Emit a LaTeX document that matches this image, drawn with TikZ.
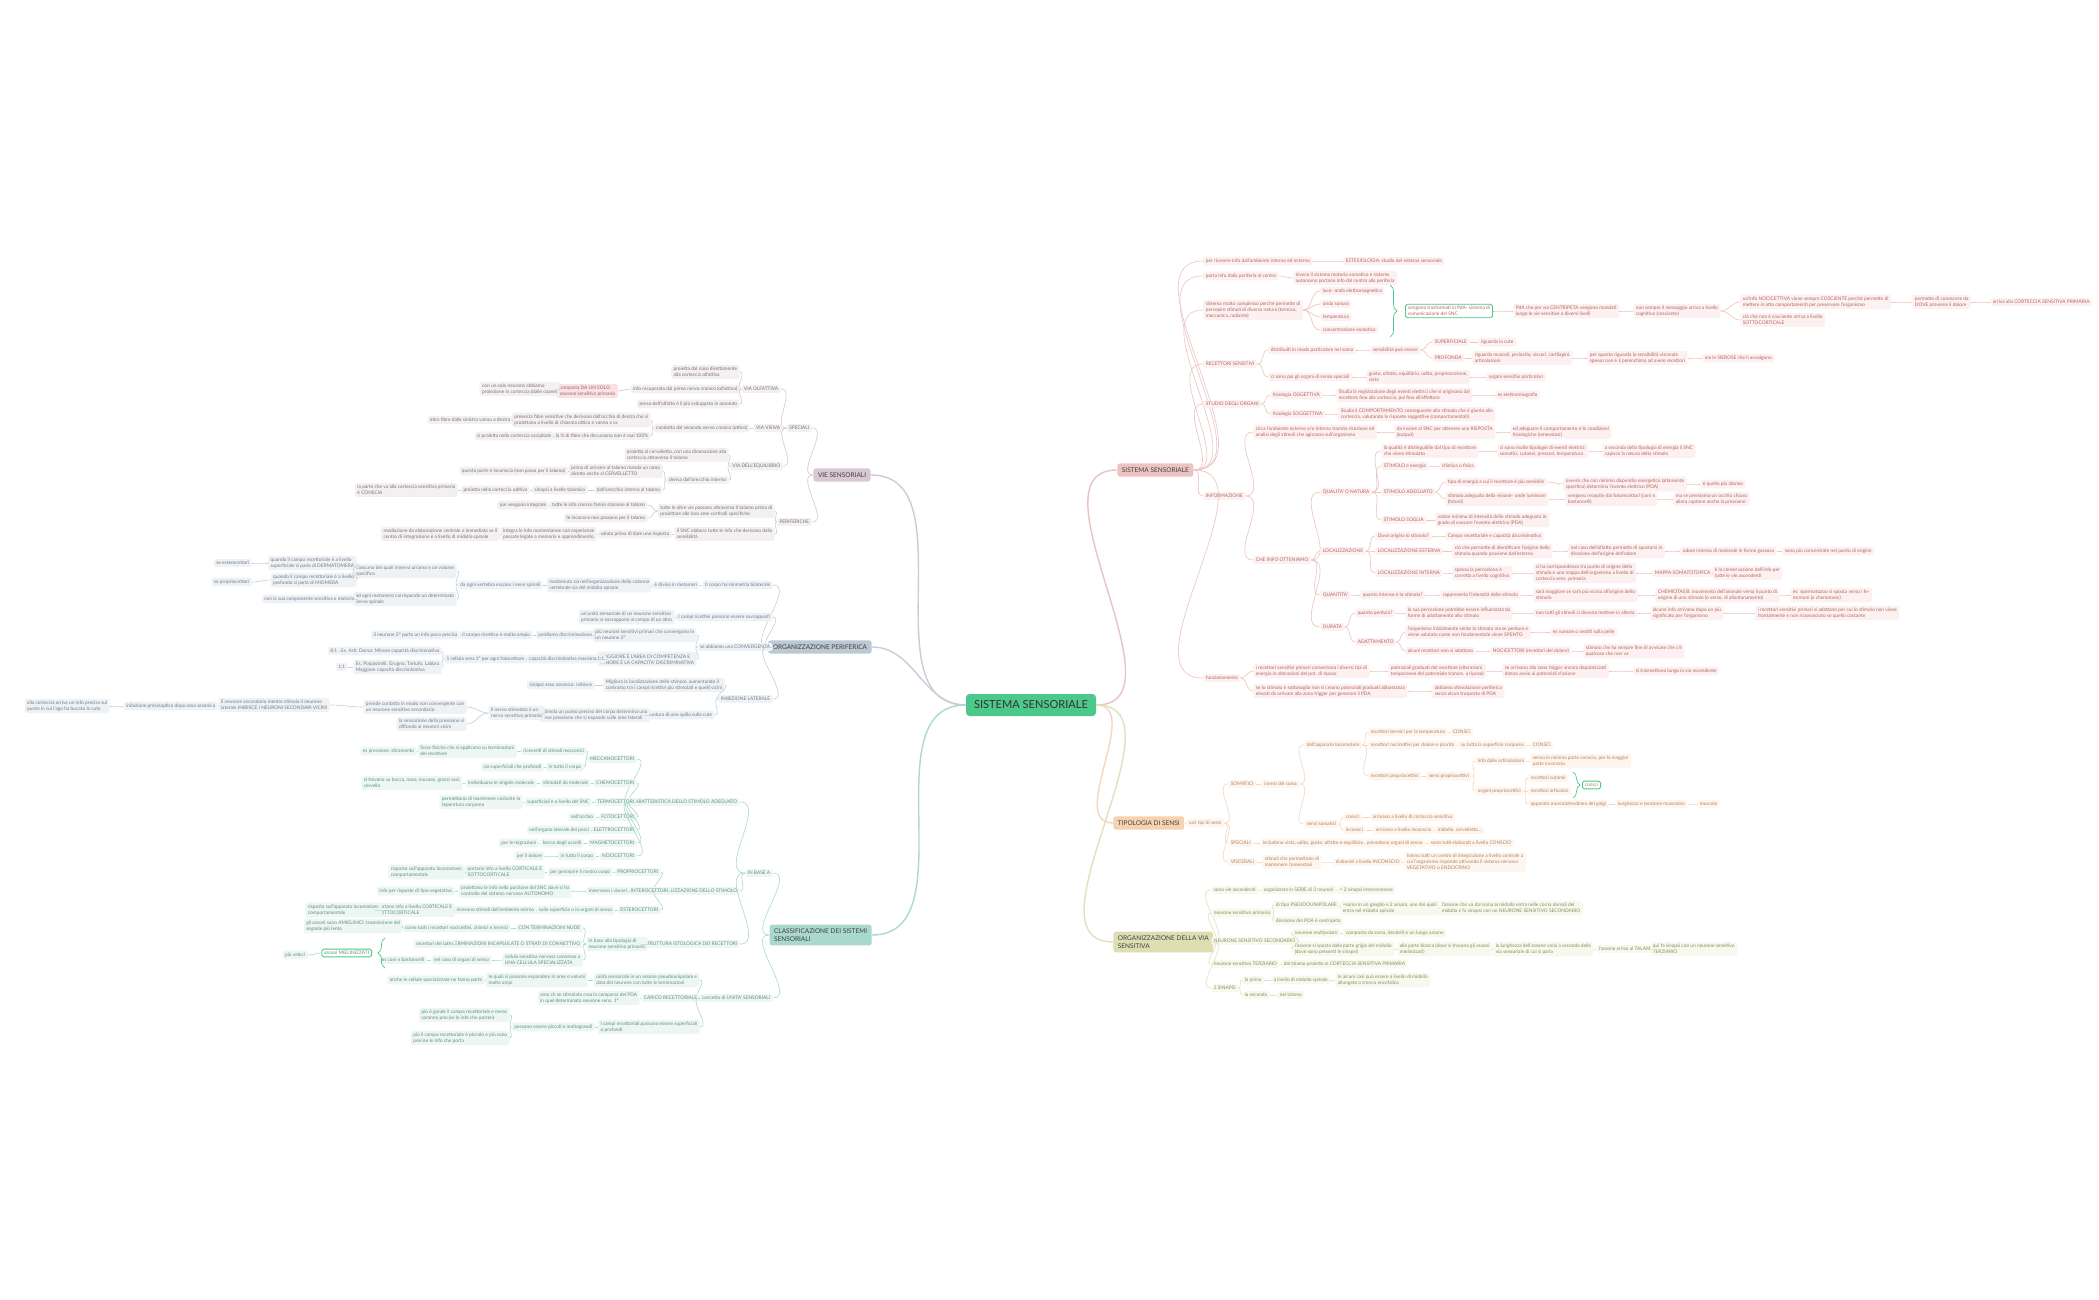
\documentclass[tikz,border=0pt]{standalone}
\usepackage{fontspec}
\setmainfont{Lato}
\usetikzlibrary{decorations.pathreplacing}
\definecolor{pkt}{HTML}{B3645F}\definecolor{pkf}{HTML}{FCF1F0}\definecolor{pkL}{HTML}{EBC3C1}\definecolor{pkB}{HTML}{EDC3C2}
\definecolor{vit}{HTML}{7E6E7A}\definecolor{vif}{HTML}{F3F0F2}\definecolor{viL}{HTML}{D5C8D2}\definecolor{viB}{HTML}{D8C8D3}
\definecolor{opt}{HTML}{6F7A88}\definecolor{opf}{HTML}{EFF2F5}\definecolor{opL}{HTML}{C5CFDA}\definecolor{opB}{HTML}{BDC8D5}
\definecolor{clt}{HTML}{5F8E83}\definecolor{clf}{HTML}{EDF6F3}\definecolor{clL}{HTML}{ACDACE}\definecolor{clB}{HTML}{A9D8CC}
\definecolor{tpt}{HTML}{B0835E}\definecolor{tpf}{HTML}{FEF5EE}\definecolor{tpL}{HTML}{F6D7BD}\definecolor{tpB}{HTML}{F6D2B1}
\definecolor{ovt}{HTML}{8A8C5A}\definecolor{ovf}{HTML}{F7F8EE}\definecolor{ovL}{HTML}{DFE2BE}\definecolor{ovB}{HTML}{DDDFB3}
\definecolor{gr}{HTML}{4CC98A}
\tikzset{
 base/.style={font=\fontsize{2.75}{3.3}\selectfont,inner xsep=1.4pt,inner ysep=1.2pt,rounded corners=1pt,align=left},
 pk/.style={base,fill=pkf,text=pkt}, pkl/.style={draw=pkL,line width=0.35pt},
 vi/.style={base,fill=vif,text=vit}, vil/.style={draw=viL,line width=0.35pt},
 op/.style={base,fill=opf,text=opt}, opl/.style={draw=opL,line width=0.35pt},
 cl/.style={base,fill=clf,text=clt}, cll/.style={draw=clL,line width=0.35pt},
 tp/.style={base,fill=tpf,text=tpt}, tpl/.style={draw=tpL,line width=0.35pt},
 ov/.style={base,fill=ovf,text=ovt}, ovl/.style={draw=ovL,line width=0.35pt},
 mainb/.style={font=\fontsize{3.7}{4.4}\selectfont,inner xsep=2.6pt,inner ysep=2.4pt,rounded corners=1.5pt,text=black!75,align=left},
}
\newcommand{\rc}[6]{\node[#1,anchor=west] (#2) at (#4,#5) {#6}; \draw[#1l] (#3.east) to[out=0,in=180] (#2.west);}
\newcommand{\lc}[6]{\node[#1,anchor=east] (#2) at (#4,#5) {#6}; \draw[#1l] (#3.west) to[out=180,in=0] (#2.east);}
\begin{document}
\begin{tikzpicture}[x=0.02cm,y=-0.02cm]
\useasboundingbox[fill=white] (0,0) rectangle (2099,1300);
\node[fill=gr,text=black!80,font=\fontsize{6.3}{7}\selectfont,minimum width=130*0.02cm,minimum height=22*0.02cm,rounded corners=2pt] (C) at (1031,705) {SISTEMA SENSORIALE};
% main branches
\node[mainb,fill=pkB,anchor=west] (SS) at (1117,470) {SISTEMA SENSORIALE};
\node[mainb,fill=tpB,anchor=west] (TS) at (1113,823) {TIPOLOGIA DI SENSI};
\node[mainb,fill=ovB,anchor=west] (OV) at (1113,942) {ORGANIZZAZIONE DELLA VIA\\SENSITIVA};
\node[mainb,fill=viB,anchor=east] (VS) at (871,475) {VIE SENSORIALI};
\node[mainb,fill=opB,anchor=east] (OP) at (872,647) {ORGANIZZAZIONE PERIFERICA};
\node[mainb,fill=clB,anchor=east] (CL) at (872,935) {CLASSIFICAZIONE DEI SISTEMI\\SENSORIALI};
\draw[pkL,line width=0.8pt] (C.east) to[out=0,in=180] (SS.west);
\draw[tpL,line width=0.8pt] (C.east) to[out=0,in=180] (TS.west);
\draw[ovL,line width=0.8pt] (C.east) to[out=0,in=180] (OV.west);
\draw[viL,line width=0.8pt] (C.west) to[out=180,in=0] (VS.east);
\draw[opL,line width=0.8pt] (C.west) to[out=180,in=0] (OP.east);
\draw[clL,line width=0.8pt] (C.west) to[out=180,in=0] (CL.east);
% ===== SISTEMA SENSORIALE (right, pink)
\rc{pk}{a1}{SS}{1203}{261}{per ricevere info dall'ambiente interno ed esterno}
\rc{pk}{a1a}{a1}{1343}{261}{ESTESIOLOGIA: studio del sistema sensoriale}
\rc{pk}{a2}{SS}{1203}{276}{porta info dalla periferia al centro}
\rc{pk}{a2a}{a2}{1293}{278}{invece il sistema motorio somatico e sistema\\autonomo portano info dal centro alla periferia}
\rc{pk}{a3}{SS}{1203}{310}{sistema molto complesso perché permette di\\percepire stimoli di diversa natura (termica,\\meccanica, radiante)}
\rc{pk}{a3a}{a3}{1320}{291}{luce- onda elettromagnetica}
\rc{pk}{a3b}{a3}{1320}{304}{onda sonora}
\rc{pk}{a3c}{a3}{1320}{317}{temperatura}
\rc{pk}{a3d}{a3}{1320}{330}{concentrazione osmotica}
\draw[gr,line width=0.4pt,decorate,decoration={brace,amplitude=4pt}] (1390,285) -- (1390,337);
\node[pk,fill=white,draw=gr,line width=0.5pt,anchor=west] (a3e) at (1405,311) {vengono trasformati in PdA- sistema di\\comunicazione del SNC};
\rc{pk}{a3f}{a3e}{1513}{311}{PdA che per via CENTRIPETA vengono mandati\\lungo le vie sensitive a diversi livelli}
\rc{pk}{a3g}{a3f}{1633}{311}{non sempre il messaggio arriva a livello\\cognitivo (cosciente)}
\rc{pk}{a3h}{a3g}{1740}{302}{un'info NOCICETTIVA viene sempre COSCIENTE perché permette di\\mettere in atto comportamenti per preservare l'organismo}
\rc{pk}{a3i}{a3g}{1740}{320}{ciò che non è cosciente arriva a livello\\SOTTOCORTICALE}
\rc{pk}{a3j}{a3h}{1912}{302}{permette di conoscere da\\DOVE proviene il dolore}
\rc{pk}{a3k}{a3j}{1990}{302}{arriva alla CORTECCIA SENSITIVA PRIMARIA}
\rc{pk}{a4}{SS}{1203}{364}{RECETTORI SENSITIVI}
\rc{pk}{a4a}{a4}{1268}{350}{distribuiti in modo particolare nel soma}
\rc{pk}{a4b}{a4a}{1370}{350}{sensibilità può essere}
\rc{pk}{a4c}{a4b}{1432}{342}{SUPERFICIALE}
\rc{pk}{a4d}{a4c}{1478}{342}{riguarda la cute}
\rc{pk}{a4e}{a4b}{1432}{358}{PROFONDA}
\rc{pk}{a4f}{a4e}{1472}{358}{riguarda muscoli, periostio, visceri, cartilagini,\\articolazioni}
\rc{pk}{a4g}{a4f}{1587}{358}{per quanto riguarda la sensibilità viscerale\\spesso non è il parenchima ad avere recettori}
\rc{pk}{a4h}{a4g}{1702}{358}{ma le SIEROSE che li avvolgono}
\rc{pk}{a4i}{a4}{1268}{377}{ci sono poi gli organi di senso speciali}
\rc{pk}{a4j}{a4i}{1366}{377}{gusto, olfatto, equilibrio, udito, propriocezione,\\vista}
\rc{pk}{a4k}{a4j}{1486}{377}{organi sensitivi particolari}
\rc{pk}{a5}{SS}{1203}{404}{STUDIO DEGLI ORGANI}
\rc{pk}{a5a}{a5}{1270}{395}{fisiologia OGGETTIVA}
\rc{pk}{a5b}{a5a}{1336}{395}{Studia la registrazione degli eventi elettrici che si originano dal\\recettore fino alla corteccia, poi fino all'effettore}
\rc{pk}{a5c}{a5b}{1495}{395}{es elettromiografia}
\rc{pk}{a5d}{a5}{1270}{414}{fisiologia SOGGETTIVA}
\rc{pk}{a5e}{a5d}{1338}{414}{Studia il COMPORTAMENTO conseguente allo stimolo che è giunto alla\\corteccia, valutando le risposte soggettive (comportamentali)}
\rc{pk}{a6}{SS}{1203}{496}{INFORMAZIONE}
\rc{pk}{b1}{a6}{1253}{432}{circa l'ambiente esterno e/o interno tramite ricezione ed\\analisi degli stimoli che agiscono sull'organismo}
\rc{pk}{b2}{b1}{1394}{432}{da inviare al SNC per ottenere una RISPOSTA\\(output)}
\rc{pk}{b3}{b2}{1510}{432}{ed adeguare il comportamento e le condizioni\\fisiologiche (omeostasi)}
\rc{pk}{c0}{a6}{1253}{560}{CHE INFO OTTENIAMO}
\rc{pk}{q0}{c0}{1320}{492}{QUALITA' O NATURA}
\rc{pk}{q1}{q0}{1381}{451}{la qualità è distinguibile dal tipo di recettore\\che viene stimolato}
\rc{pk}{q1a}{q1}{1497}{451}{ci sono molte tipologie di eventi elettrici:\\somatici, cutanei, pressori, temperatura}
\rc{pk}{q1b}{q1a}{1602}{451}{a seconda della tipologia di energia il SNC\\capisce la natura dello stimolo}
\rc{pk}{q2}{q0}{1381}{466}{STIMOLO e energia}
\rc{pk}{q2a}{q2}{1439}{466}{chimica o fisica}
\rc{pk}{q3}{q0}{1381}{492}{STIMOLO ADEGUATO}
\rc{pk}{q3a}{q3}{1445}{482}{tipo di energia a cui il recettore è più sensibile}
\rc{pk}{q3b}{q3a}{1563}{484}{ovvero che con minimo dispendio energetico (altamente\\specifico) determina l'evento elettrico (PDA)}
\rc{pk}{q3c}{q3b}{1700}{484}{è quello più idoneo}
\rc{pk}{q3d}{q3}{1445}{499}{stimolo adeguato della visione- onde luminose\\(fotoni)}
\rc{pk}{q3e}{q3d}{1565}{499}{vengono recepite dai fotorecettori (coni e\\bastoncelli)}
\rc{pk}{q3f}{q3e}{1673}{499}{ma se premiamo un occhio chiuso\\allora captano anche la pressione}
\rc{pk}{q4}{q0}{1381}{520}{STIMOLO SOGLIA}
\rc{pk}{q4a}{q4}{1435}{520}{valore minimo di intensità dello stimolo adeguato in\\grado di evocare l'evento elettrico (PDA)}
\rc{pk}{l0}{c0}{1320}{551}{LOCALIZZAZIONE}
\rc{pk}{l1}{l0}{1375}{536}{Dove origina lo stimolo?}
\rc{pk}{l1a}{l1}{1445}{536}{Campo recettoriale e capacità discriminativa}
\rc{pk}{l2}{l0}{1375}{551}{LOCALIZZAZIONE ESTERNA}
\rc{pk}{l2a}{l2}{1452}{551}{ciò che permette di identificare l'origine dello\\stimolo quando proviene dall'esterno}
\rc{pk}{l2b}{l2a}{1568}{551}{nel caso dell'olfatto permette di spostarsi in\\direzione dell'origine dell'odore}
\rc{pk}{l2c}{l2b}{1680}{551}{odore intenso di molecole in forma gassosa}
\rc{pk}{l2d}{l2c}{1782}{551}{sono più concentrate nel punto di origine}
\rc{pk}{l3}{l0}{1375}{573}{LOCALIZZAZIONE INTERNA}
\rc{pk}{l3a}{l3}{1452}{573}{spesso la percezione è\\corretta a livello cognitivo}
\rc{pk}{l3b}{l3a}{1533}{573}{si ha corrispondenza tra punto di origine dello\\stimolo e una mappa dell'organismo a livello di\\corteccia sens. primaria}
\rc{pk}{l3c}{l3b}{1652}{573}{MAPPA SOMATOTOPICA}
\rc{pk}{l3d}{l3c}{1712}{573}{è la conservazione dell'info per\\tutte le vie ascendenti}
\rc{pk}{n0}{c0}{1320}{595}{QUANTITA'}
\rc{pk}{n1}{n0}{1360}{595}{quanto intenso è lo stimolo?}
\rc{pk}{n2}{n1}{1440}{595}{rappresenta l'intensità dello stimolo}
\rc{pk}{n3}{n2}{1533}{595}{sarà maggiore se sarà più vicina all'origine dello\\stimolo}
\rc{pk}{n4}{n3}{1655}{595}{CHEMIOTASSI: movimento dell'animale verso il punto di\\origine di uno stimolo (o verso, di allontanamento)}
\rc{pk}{n5}{n4}{1790}{595}{es: spermatozoo si sposta verso i fe-\\rormoni (o chemotassi)}
\rc{pk}{d0}{c0}{1320}{627}{DURATA}
\rc{pk}{d1}{d0}{1355}{613}{quanto perdura?}
\rc{pk}{d1a}{d1}{1405}{613}{la sua percezione potrebbe essere influenzata da\\forme di adattamento allo stimolo}
\rc{pk}{d1b}{d1a}{1533}{613}{non tutti gli stimoli ci devono mettere in allerta}
\rc{pk}{d1c}{d1b}{1650}{613}{alcune info arrivano dopo un più\\significato per l'organismo}
\rc{pk}{d1d}{d1c}{1755}{613}{i recettori sensitivi primari si adattano per cui lo stimolo non viene\\frontalmente e non riconosciuto se quello costante}
\rc{pk}{d2}{d0}{1355}{642}{ADATTAMENTO}
\rc{pk}{d2a}{d2}{1405}{632}{l'organismo inizialmente sente lo stimolo ma se perdura e\\viene valutato come non fondamentale viene SPENTO}
\rc{pk}{d2b}{d2a}{1550}{632}{es rumore o vestiti sulla pelle}
\rc{pk}{d2c}{d2}{1405}{651}{alcuni recettori non si adattano}
\rc{pk}{d2d}{d2c}{1490}{651}{NOCICETTORI (recettori del dolore)}
\rc{pk}{d2e}{d2d}{1583}{651}{stimolo che ha sempre fine di avvisare che c'è\\qualcosa che non va}
\rc{pk}{a7}{SS}{1203}{678}{funzionamento}
\rc{pk}{f1}{a7}{1253}{671}{i recettori sensitivi primari convertono i diversi tipi di\\energia in alterazioni del pot. di riposo}
\rc{pk}{f2}{f1}{1388}{671}{potenziali graduati del recettore (alterazioni\\temporanee del potenziale transm. a riposo)}
\rc{pk}{f3}{f2}{1502}{671}{se arrivano alla zona trigger ancora depolarizzati\\danno avvio ai potenziali d'azione}
\rc{pk}{f4}{f3}{1633}{671}{si trasmettono lungo la via ascendente}
\rc{pk}{f5}{a7}{1253}{691}{se lo stimolo è sottosoglia non si creano potenziali graduati abbastanza\\elevati da arrivare alla zona trigger per generare il PDA}
\rc{pk}{f6}{f5}{1432}{691}{abbiamo stimolazione periferica\\senza alcun trasporto di PDA}
% ===== TIPOLOGIA DI SENSI
\rc{tp}{t0}{TS}{1186}{823}{vari tipi di sensi}
\rc{tp}{t1}{t0}{1228}{784}{SOMATICI}
\rc{tp}{t1a}{t1}{1261}{784}{i sensi del soma}
\rc{tp}{t2}{t1a}{1304}{745}{dell'apparato locomotore}
\rc{tp}{t2a}{t2}{1368}{732}{recettori termici per la temperatura}
\rc{tp}{t2b}{t2a}{1450}{732}{CONSCI}
\rc{tp}{t2c}{t2}{1368}{745}{recettori nocicettivi per dolore e prurito}
\rc{tp}{t2d}{t2c}{1458}{745}{su tutta la superficie corporea}
\rc{tp}{t2e}{t2d}{1530}{745}{CONSCI}
\rc{tp}{t2f}{t2}{1368}{776}{recettori propriocettivi}
\rc{tp}{t2g}{t2f}{1426}{776}{sensi propriocettivi}
\rc{tp}{t2h}{t2g}{1475}{761}{info dalle articolazioni}
\rc{tp}{t2i}{t2h}{1530}{761}{senso in minima parte conscio, per la maggior\\parte inconscio}
\rc{tp}{t2j}{t2g}{1475}{791}{organi propriocettivi}
\rc{tp}{t2k}{t2j}{1528}{778}{recettori cutanei}
\rc{tp}{t2l}{t2j}{1528}{791}{recettori articolari}
\rc{tp}{t2m}{t2j}{1528}{804}{apparato muscolotendineo del golgi}
\rc{tp}{t2n}{t2m}{1615}{804}{lunghezza e tensione muscolare}
\rc{tp}{t2o}{t2n}{1697}{804}{muscolo}
\draw[gr,line width=0.4pt,decorate,decoration={brace,amplitude=4pt}] (1573,772) -- (1573,798);
\node[tp,fill=white,draw=gr,line width=0.5pt,anchor=west] (t2p) at (1582,785) {consci};
\rc{tp}{t3}{t1a}{1304}{824}{sensi somatici}
\rc{tp}{t3a}{t3}{1343}{817}{consci}
\rc{tp}{t3b}{t3a}{1370}{817}{arrivano a livello di corteccia sensitiva}
\rc{tp}{t3c}{t3}{1343}{830}{inconsci}
\rc{tp}{t3d}{t3c}{1373}{830}{arrivano a livello inconscio}
\rc{tp}{t3e}{t3d}{1435}{830}{midollo, cervelletto...}
\rc{tp}{t4}{t0}{1228}{843}{SPECIALI}
\rc{tp}{t4a}{t4}{1260}{843}{includono vista, udito, gusto, olfatto e equilibrio}
\rc{tp}{t4b}{t4a}{1364}{843}{prevedono organi di senso}
\rc{tp}{t4c}{t4b}{1428}{843}{sono tutti elaborati a livello CONSCIO}
\rc{tp}{t5}{t0}{1228}{862}{VISCERALI}
\rc{tp}{t5a}{t5}{1262}{862}{stimoli che permettono di\\mantenere l'omeostasi}
\rc{tp}{t5b}{t5a}{1333}{862}{elaborati a livello INCONSCIO}
\rc{tp}{t5c}{t5b}{1404}{862}{hanno tutti un centro di integrazione a livello centrale a\\cui l'organismo risponde attivando il sistema nervoso\\VEGETATIVO o ENDOCRINO}
% ===== ORGANIZZAZIONE DELLA VIA SENSITIVA
\rc{ov}{o1}{OV}{1211}{890}{sono vie ascendenti}
\rc{ov}{o1a}{o1}{1261}{890}{organizzate in SERIE di 3 neuroni}
\rc{ov}{o1b}{o1a}{1337}{890}{= 2 sinapsi interconnesse}
\rc{ov}{o2}{OV}{1211}{913}{neurone sensitivo primario}
\rc{ov}{o2a}{o2}{1273}{905}{di tipo PSEUDOUNIPOLARE}
\rc{ov}{o2b}{o2a}{1340}{908}{=soma in un ganglio e 2 assoni, uno dei quali\\entra nel midollo spinale}
\rc{ov}{o2c}{o2b}{1439}{908}{l'assone che va dal soma al midollo entra nelle corna dorsali del\\midollo e fa sinapsi con un NEURONE SENSITIVO SECONDARIO}
\rc{ov}{o2d}{o2}{1273}{921}{direzione del PDA è centripeta}
\rc{ov}{o3}{OV}{1211}{941}{NEURONE SENSITIVO SECONDARIO}
\rc{ov}{o3a}{o3}{1292}{933}{neurone multipolare}
\rc{ov}{o3b}{o3a}{1343}{933}{composto da soma, dendriti e un lungo assone}
\rc{ov}{o3c}{o3}{1292}{949}{l'assone si sposta dalla parte grigia del midollo\\(dove sono presenti le sinapsi)}
\rc{ov}{o3d}{o3c}{1397}{949}{alla parte bianca (dove si trovano gli assoni\\mielinizzati)}
\rc{ov}{o3e}{o3d}{1493}{949}{la lunghezza dell'assone varia a seconda della\\via sensoriale di cui si parla}
\rc{ov}{o3f}{o3e}{1596}{949}{l'assone arriva al TALAMO}
\rc{ov}{o3g}{o3f}{1650}{949}{qui fa sinapsi con un neurone sensitivo\\TERZIARIO}
\rc{ov}{o4}{OV}{1211}{964}{neurone sensitivo TERZIARIO}
\rc{ov}{o4a}{o4}{1281}{964}{dal talamo proietta in CORTECCIA SENSITIVA PRIMARIA}
\rc{ov}{o5}{OV}{1211}{988}{2 SINAPSI}
\rc{ov}{o5a}{o5}{1242}{980}{la prima}
\rc{ov}{o5b}{o5a}{1271}{980}{a livello di midollo spinale}
\rc{ov}{o5c}{o5b}{1335}{980}{in alcuni casi può essere a livello di midollo\\allungato o tronco encefalico}
\rc{ov}{o5d}{o5}{1242}{995}{la seconda}
\rc{ov}{o5e}{o5d}{1277}{995}{nel talamo}
% ===== VIE SENSORIALI (left)
\lc{vi}{v1}{VS}{812}{428}{SPECIALI}
\lc{vi}{v2}{v1}{781}{389}{VIA OLFATTIVA}
\lc{vi}{v2a}{v2}{740}{372}{proietta dal naso direttamente\\alla corteccia olfattiva}
\lc{vi}{v2b}{v2}{740}{389}{info recuperata dal primo nervo cranico (olfattivo)}
\node[vi,fill=red!12,anchor=east] (v2c) at (618,391) {composta DA UN SOLO\\neurone sensitivo primario};
\draw[vil] (v2b.west) -- (v2c.east);
\lc{vi}{v2d}{v2c}{560}{389}{con un solo neurone abbiamo\\proiezione in corteccia (dalle coane)}
\lc{vi}{v2e}{v2}{740}{404}{senso dell'olfatto è il più sviluppato in assoluto}
\lc{vi}{v3}{v1}{783}{428}{VIA VISIVA}
\lc{vi}{v3a}{v3}{750}{428}{condotta dal secondo nervo cranico (ottico)}
\lc{vi}{v3b}{v3a}{651}{420}{presenta fibre sensitive che derivano dall'occhio di destra che si\\proiettano a livello di chiasma ottico e vanno a sx}
\lc{vi}{v3c}{v3b}{513}{420}{altre fibre dalla sinistra vanno a destra}
\lc{vi}{v3d}{v3a}{651}{436}{la \% di fibre che decussano non è mai 100\%}
\lc{vi}{v3e}{v3d}{554}{436}{si proietta nella corteccia occipitale}
\lc{vi}{v4}{v1}{783}{466}{VIA DELL'EQUILIBRIO}
\lc{vi}{v4a}{v4}{729}{455}{proietta al cervelletto, con una diramazione alla\\corteccia attraverso il talamo}
\lc{vi}{v4b}{v4}{729}{480}{deriva dall'orecchio interno}
\lc{vi}{v4c}{v4b}{663}{471}{prima di arrivare al talamo manda un ramo\\diretto anche al CERVELLETTO}
\lc{vi}{v4d}{v4c}{568}{471}{questa parte è inconscia (non passa per il talamo)}
\lc{vi}{v4e}{v4b}{663}{490}{dall'orecchio interno al talamo}
\lc{vi}{v4f}{v4e}{588}{490}{sinapsi a livello talamico}
\lc{vi}{v4g}{v4f}{530}{490}{proietta nella corteccia uditiva}
\lc{vi}{v4h}{v4g}{458}{490}{la parte che va alla corteccia sensitiva primaria\\è CONSCIA}
\lc{vi}{v5}{VS}{812}{522}{PERIFERICHE}
\lc{vi}{v5a}{v5}{775}{511}{tutte le altre vie passano attraverso il talamo prima di\\proiettare alle loro aree corticali specifiche}
\lc{vi}{v5b}{v5a}{648}{505}{tutte le info consce fanno stazione al talamo}
\lc{vi}{v5c}{v5b}{549}{505}{qui vengono integrate}
\lc{vi}{v5d}{v5a}{648}{518}{le inconsce non passano per il talamo}
\lc{vi}{v5e}{v5}{775}{534}{il SNC elabora tutte le info che derivano dalla\\sensibilità}
\lc{vi}{v5f}{v5e}{672}{534}{valuta prima di dare una risposta}
\lc{vi}{v5g}{v5f}{597}{534}{integra le info momentanee con esperienze\\passate legate a memoria e apprendimento}
\lc{vi}{v5h}{v5g}{500}{534}{mediazione da elaborazione centrale o immediata se il\\centro di integrazione è a livello di midollo spinale}
% ===== ORGANIZZAZIONE PERIFERICA
\lc{op}{p1}{OP}{773}{585}{Il corpo ha simmetria bilaterale}
\lc{op}{p1a}{p1}{700}{585}{è diviso in metameri}
\lc{op}{p1b}{p1a}{652}{585}{mantenuta sia nell'organizzazione della colonna\\vertebrale sia del midollo spinale}
\lc{op}{p1c}{p1b}{543}{585}{da ogni vertebra escono i nervi spinali}
\lc{op}{p1d}{p1c}{457}{571}{ciascuno dei quali innerva un'area e un volume\\specifico}
\lc{op}{p1e}{p1d}{357}{563}{quando il campo recettoriale è a livello\\superficiale si parla di DERMATOMERA}
\lc{op}{p1f}{p1e}{252}{563}{se esterocettori}
\lc{op}{p1g}{p1d}{357}{580}{quando il campo recettoriale è a livello\\profondo si parla di MIOMERA}
\lc{op}{p1h}{p1g}{252}{582}{se propriocettori}
\lc{op}{p1i}{p1c}{457}{599}{ad ogni metamero corrisponde un determinato\\nervo spinale}
\lc{op}{p1j}{p1i}{357}{599}{con la sua componente sensitiva e motoria}
\lc{op}{p2}{OP}{773}{617}{I campi ricettivi possono essere sovrapposti}
\lc{op}{p2a}{p2}{675}{617}{un'unità sensoriale di un neurone sensitivo\\primario si sovrappone al campo di un altro}
\lc{op}{p3}{OP}{773}{647}{se abbiamo una CONVERGENZA}
\lc{op}{p3a}{p3}{697}{635}{più neuroni sensitivi primari che convergono in\\un neurone 2°}
\lc{op}{p3b}{p3a}{595}{635}{perdiamo discriminazione}
\lc{op}{p3c}{p3b}{533}{635}{il campo ricettivo è molto ampio}
\lc{op}{p3d}{p3c}{460}{635}{il neurone 2° porta un info poco precisa}
\lc{op}{p3e}{p3}{697}{659}{MAGGIORE È L'AREA DI COMPETENZA E\\MINORE È LA CAPACITA' DISCRIMINATIVA}
\lc{op}{p3f}{p3e}{607}{659}{capacità discriminativa massima 1:1}
\lc{op}{p3g}{p3f}{527}{659}{1 cellula sens.1° per ogni fotocettore}
\lc{op}{p3h}{p3g}{442}{651}{Es. Arti, Dorso: Minore capacità discriminativa}
\lc{op}{p3j}{p3h}{340}{651}{8:1}
\lc{op}{p3i}{p3g}{442}{667}{Es. Polpastrelli, Grugno, Tartufo, Labbra\\Maggiore capacità discriminativa}
\lc{op}{p3k}{p3i}{348}{667}{1:1}
\lc{op}{p4}{OP}{773}{699}{INIBIZIONE LATERALE}
\lc{op}{p4a}{p4}{725}{685}{Migliora la localizzazione dello stimolo, aumentando il\\contrasto tra i campi ricettivi più stimolati e quelli vicini}
\node[op,anchor=east] (p4b) at ([xshift=-0.16cm]p4a.west) {sinapsi asso assonica: inibisce};
\draw[opl] (p4a.west) -- (p4b.east);
\lc{op}{p4c}{p4}{715}{715}{puntura di uno spillo sulla cute}
\lc{op}{p4d}{p4c}{650}{715}{stimola un punto preciso del corpo determina una\\lieve pressione che si espande sulle aree laterali}
\lc{op}{p4e}{p4d}{545}{713}{il nervo stimolato è un\\nervo sensitivo primario}
\lc{op}{p4f}{p4e}{467}{707}{prende contatto in modo non convergente con\\un neurone sensitivo secondario}
\lc{op}{p4g}{p4e}{467}{724}{la sensazione della pressione si\\diffonde ai neuroni vicini}
\lc{op}{p4h}{p4f}{330}{705}{il neurone secondario mentre stimola il neurone\\laterale INIBISCE I NEURONI SECONDARI VICINI}
\lc{op}{p4i}{p4h}{218}{706}{inibizione presinaptica dopo asso assonica}
\lc{op}{p4j}{p4i}{110}{706}{alla corteccia arriva un info precisa sul\\punto in cui l'ago ha bucato la cute}
% ===== CLASSIFICAZIONE
\lc{cl}{k1}{CL}{773}{873}{IN BASE A}
\lc{cl}{k2}{k1}{740}{802}{CARATTERISTICA DELLO STIMOLO ADEGUATO}
\lc{cl}{m1}{k2}{637}{759}{MECCANOCETTORI}
\lc{cl}{m1a}{m1}{587}{751}{riceventi di stimoli meccanici}
\lc{cl}{m1b}{m1a}{517}{751}{forze fisiche che si applicano su terminazioni\\del recettore}
\lc{cl}{m1c}{m1b}{417}{751}{es pressione, stiramento}
\lc{cl}{m1d}{m1}{584}{767}{in tutto il corpo}
\lc{cl}{m1e}{m1d}{544}{767}{sia superficiali che profondi}
\lc{cl}{m2}{k2}{637}{783}{CHEMOCETTORI}
\lc{cl}{m2a}{m2}{591}{783}{stimolati da molecole}
\lc{cl}{m2b}{m2a}{537}{783}{individuano le singole molecole}
\lc{cl}{m2c}{m2b}{463}{783}{si trovano su bocca, naso, mucose, grossi vasi,\\cervello}
\lc{cl}{m3}{k2}{637}{802}{TERMOCETTORI}
\lc{cl}{m3a}{m3}{592}{802}{superficiali e a livello del SNC}
\lc{cl}{m3b}{m3a}{523}{802}{permettono di mantenere costante la\\teperatura corporea}
\lc{cl}{m4}{k2}{637}{817}{FOTOCETTORI}
\lc{cl}{m4a}{m4}{596}{817}{nell'occhio}
\lc{cl}{m5}{k2}{637}{830}{ELETTROCETTORI}
\lc{cl}{m5a}{m5}{592}{830}{nell'organo laterale dei pesci}
\lc{cl}{m6}{k2}{637}{843}{MAGNETOCETTORI}
\lc{cl}{m6a}{m6}{584}{843}{becco degli uccelli}
\lc{cl}{m6b}{m6a}{539}{843}{per le migrazioni}
\lc{cl}{m7}{k2}{637}{856}{NOCICETTORI}
\lc{cl}{m7a}{m7}{596}{856}{in tutto il corpo}
\lc{cl}{m7b}{m7a}{545}{856}{per il dolore}
\lc{cl}{k3}{k1}{740}{891}{LOCALIZZAZIONE DELLO STIMOLO}
\lc{cl}{r1}{k3}{661}{872}{PROPRIOCETTORI}
\lc{cl}{r1a}{r1}{613}{872}{per percepire il nostro corpo}
\lc{cl}{r1b}{r1a}{545}{872}{portano info a livello CORTICALE E\\SOTTOCORTICALE}
\lc{cl}{r1c}{r1b}{465}{872}{risposta sull'apparato locomotore:\\comportamentale}
\lc{cl}{r2}{k3}{671}{891}{INTEROCETTORI}
\lc{cl}{r2a}{r2}{630}{891}{innervano i visceri}
\lc{cl}{r2b}{r2a}{572}{891}{proiettano le info nella porzione del SNC dove si ha\\controllo del sistema nervoso AUTONOMO}
\lc{cl}{r2c}{r2b}{455}{891}{info per risposte di tipo vegetativo}
\lc{cl}{r3}{k3}{661}{910}{ESTEROCETTORI}
\lc{cl}{r3a}{r3}{615}{910}{sulla superficie o in organi di senso}
\lc{cl}{r3b}{r3a}{537}{910}{ricevono stimoli dall'ambiente estrno}
\lc{cl}{r3c}{r3b}{455}{910}{portano info a livello CORTICALE E\\SOTTOCORTICALE}
\lc{cl}{r3d}{r3c}{382}{910}{risposta sull'apparato locomotore:\\comportamentale}
\lc{cl}{k4}{k1}{740}{944}{STRUTTURA ISTOLOGICA DEI RECETTORI}
\lc{cl}{s0}{k4}{648}{944}{in base alla tipologia di\\neurone sensitivo primario}
\lc{cl}{s1}{s0}{583}{928}{CON TERMINAZIONI NUDE}
\lc{cl}{s1a}{s1}{511}{928}{come tutti i recettori nocicettivi, chimici e termici}
\lc{cl}{s1b}{s1a}{403}{926}{gli assoni sono AMIELINICI: trasmissione del\\segnale più lenta}
\lc{cl}{s2}{s0}{583}{944}{TERMINAZIONI INCAPSULATE O STRATI DI CONNETTIVO}
\lc{cl}{s2a}{s2}{456}{944}{recettori del tatto}
\lc{cl}{s3}{s0}{583}{960}{cellula sensitiva nervosa connessa a\\UNA CELLULA SPECIALIZZATA}
\lc{cl}{s3a}{s3}{492}{960}{nel caso di organi di senso}
\lc{cl}{s3b}{s3a}{427}{960}{es coni e bastoncelli}
\draw[gr,line width=0.4pt,decorate,decoration={brace,amplitude=4pt,mirror}] (385,938) -- (385,968);
\node[cl,fill=white,draw=gr,line width=0.5pt,anchor=east] (s4) at (372,953) {assoni MIELINIZZATI};
\lc{cl}{s5}{s4}{308}{955}{più veloci}
\lc{cl}{k5}{CL}{773}{998}{concetto di UNITA' SENSORIALI}
\lc{cl}{u1}{k5}{700}{980}{unità sensoriale in un assone pseudounipolare e\\data dal neurone con tutte le terminazioni}
\lc{cl}{u1a}{u1}{588}{980}{le quali si possono espandere in aree o volumi\\molto ampi}
\lc{cl}{u1b}{u1a}{485}{980}{anche le cellule specializzate ne fanno parte}
\lc{cl}{u2}{k5}{700}{998}{CARICO RECETTORIALE}
\lc{cl}{u2a}{u2}{640}{998}{area ch se stimolata crea la comparsa del PDA\\in quel determinato neurone sens. 1°}
\lc{cl}{u3}{k5}{700}{1027}{i campi recettoriali possono essere superficiali\\o profondi}
\lc{cl}{u3a}{u3}{595}{1027}{possono essere piccoli o moltograndi}
\lc{cl}{u3b}{u3a}{510}{1015}{più è gande il campo recettoriale e meno\\saranno precise le info che porterà}
\lc{cl}{u3c}{u3a}{510}{1038}{più il campo recettoriale è piccolo e più sono\\precise le info che porta}
\end{tikzpicture}
\end{document}
